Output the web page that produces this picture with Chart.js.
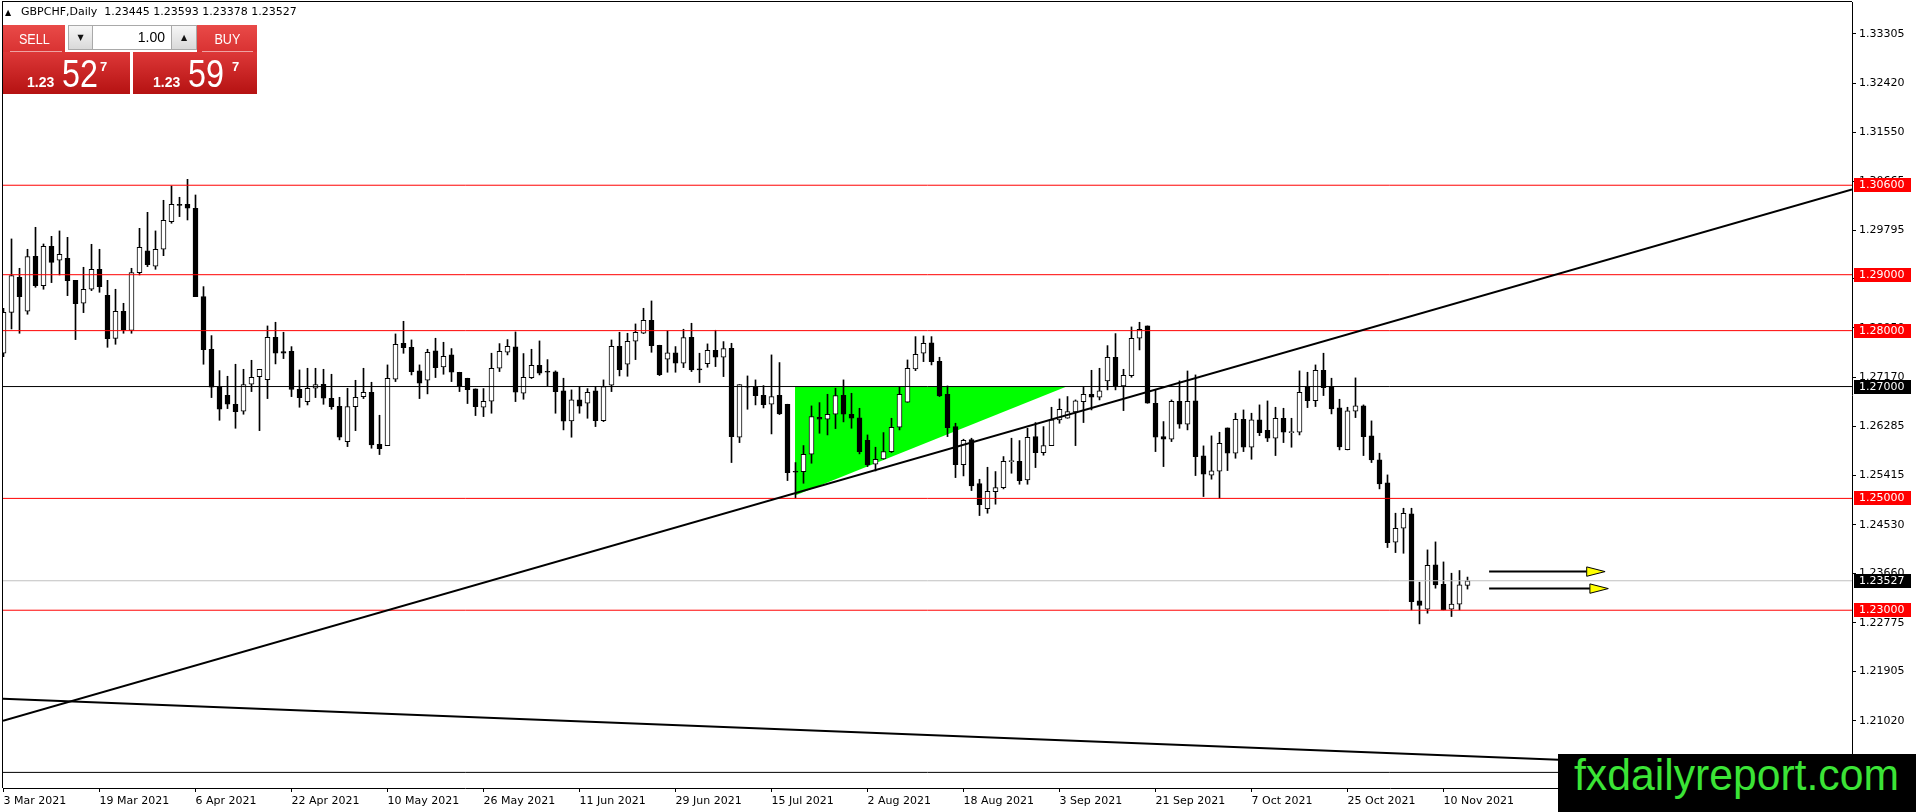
<!DOCTYPE html>
<html>
<head>
<meta charset="utf-8">
<script src="https://cdn.jsdelivr.net/npm/chart.js@4.4.1/dist/chart.umd.min.js"></script>
<style>
html,body{margin:0;padding:0;background:#fff;overflow:hidden}
#wrap{position:relative;width:1916px;height:812px;background:#fff}
#c{position:absolute;left:0;top:0}
.ov{position:absolute;white-space:pre}
.rtop{position:absolute;top:25px;height:27px;background:linear-gradient(#e94a48,#d93232);color:#fff;font:15px 'Liberation Sans';text-align:center;line-height:27px}
.rtop span{display:inline-block;transform:scaleX(0.84)}
.big{position:absolute;top:52px;height:42px;background:linear-gradient(#dd3838,#b51212)}
.sep{position:absolute;top:51px;height:1px;background:rgba(255,255,255,0.55)}
.spin{position:absolute;top:25px;height:25px;box-sizing:border-box;border:1px solid #a9a9a9;background:linear-gradient(#f6f6f6,#d9d9d9);font:8px 'DejaVu Sans';text-align:center;line-height:23px;color:#111}
.inp{position:absolute;top:25px;height:25px;box-sizing:border-box;border:1px solid #a9a9a9;background:#fff;font:14px 'Liberation Sans';text-align:right;line-height:23px;padding-right:6px;color:#000}
.t1{position:absolute;color:#fff;font:bold 14px 'Liberation Sans';line-height:14px}
.t2{position:absolute;color:#fff;font:38px 'Liberation Sans';line-height:38px;transform:scaleX(0.85);transform-origin:left top}
.t3{position:absolute;color:#fff;font:bold 13px 'Liberation Sans';line-height:13px}
#wm{position:absolute;left:1558px;top:754px;width:358px;height:58px;background:#000;overflow:hidden}
#wm div{position:absolute;left:16px;top:-1px;color:#3be436;font:44px 'Liberation Sans';line-height:44px;transform:scaleX(0.97);transform-origin:left top;white-space:pre}
</style>
</head>
<body>
<div id="wrap">
<canvas id="c" width="1916" height="812"></canvas>

<div class="ov" style="left:5px;top:8px;font:8px 'DejaVu Sans';color:#000">▲</div>
<div class="ov" style="left:21px;top:5px;font:11px 'DejaVu Sans';color:#000">GBPCHF,Daily  1.23445 1.23593 1.23378 1.23527</div>

<div class="big" style="left:3px;width:127px"></div>
<div class="big" style="left:133px;width:124px"></div>
<div class="rtop" style="left:3px;width:62px"><span>SELL</span></div>
<div class="rtop" style="left:197px;width:60px"><span>BUY</span></div>
<div class="sep" style="left:10px;width:52px"></div>
<div class="sep" style="left:202px;width:51px"></div>
<div class="spin" style="left:68px;width:25px">▼</div>
<div class="inp" style="left:92px;width:80px">1.00</div>
<div class="spin" style="left:171px;width:26px">▲</div>

<div class="t1" style="left:27px;top:75px">1.23</div>
<div class="t2" style="left:62px;top:55px">52</div>
<div class="t3" style="left:100px;top:60px">7</div>
<div class="t1" style="left:153px;top:75px">1.23</div>
<div class="t2" style="left:188px;top:55px">59</div>
<div class="t3" style="left:232px;top:60px">7</div>

<div id="wm"><div>fxdailyreport.com</div></div>
</div>

<script>
// ---- candle data (daily bars, index 0 = 3 Mar 2021) ----
const openP = [
1.27595,1.28328,1.28954,1.28346,1.29330,1.28805,1.29508,1.29258,1.29294,1.28900,
1.28489,1.28740,1.29097,1.28632,1.27863,1.28346,1.28006,1.29037,1.29425,1.29151,
1.29455,1.29949,1.30259,1.30259,1.30188,1.28608,1.27667,1.26993,1.26844,1.26683,
1.26558,1.27041,1.27178,1.27124,1.27881,1.27625,1.27631,1.26951,1.26731,1.26969,
1.27041,1.26791,1.26648,1.26016,1.26642,1.26820,1.26898,1.25968,1.25944,1.27130,
1.27774,1.27702,1.27279,1.27113,1.27637,1.27351,1.27566,1.27256,1.27149,1.26958,
1.26630,1.26737,1.27327,1.27613,1.27709,1.26880,1.27161,1.27381,1.27274,1.27262,
1.26922,1.26386,1.26761,1.26702,1.26922,1.26392,1.27023,1.27721,1.27399,1.27810,
1.27953,1.28186,1.27739,1.27488,1.27602,1.27417,1.27882,1.27310,1.27411,1.27649,
1.27524,1.27685,1.26094,1.27000,1.27000,1.26845,1.26684,1.26845,1.26684,1.25480,
1.25480,1.25790,1.26451,1.26415,1.26505,1.26844,1.26505,1.26439,1.26040,1.25611,
1.25706,1.25837,1.26272,1.26719,1.27315,1.27595,1.27780,1.27452,1.26862,1.26284,
1.25605,1.26052,1.25265,1.24818,1.25122,1.25194,1.25658,1.25664,1.25331,1.26105,
1.25819,1.25944,1.26403,1.26433,1.26546,1.26731,1.26862,1.26809,1.27101,1.27524,
1.27011,1.27196,1.27864,1.28084,1.26701,1.26105,1.26058,1.26737,1.26326,1.26743,
1.25760,1.25414,1.25486,1.26260,1.25808,1.26415,1.25915,1.26403,1.26219,1.26076,
1.26433,1.26177,1.26183,1.26999,1.26749,1.27292,1.26999,1.26618,1.25873,1.26558,
1.26654,1.26117,1.25688,1.25277,1.24216,1.24466,1.24723,1.23167,1.23018,1.23811,
1.23465,1.23018,1.23108,1.23445];
const highP = [
1.28400,1.29640,1.29115,1.29455,1.29848,1.29550,1.29687,1.29783,1.29669,1.28900,
1.29133,1.29544,1.29455,1.28900,1.28740,1.28489,1.29115,1.29830,1.30116,1.29783,
1.30331,1.30587,1.30385,1.30706,1.30426,1.28787,1.27911,1.27285,1.27184,1.27399,
1.27309,1.27470,1.27309,1.28084,1.28150,1.27971,1.27714,1.27297,1.27327,1.27327,
1.27309,1.27220,1.26808,1.26969,1.27112,1.27327,1.27077,1.26487,1.27387,1.27941,
1.28167,1.27834,1.27387,1.27667,1.27864,1.27792,1.27679,1.27256,1.27149,1.26958,
1.26964,1.27596,1.27768,1.27840,1.27977,1.27590,1.27667,1.27816,1.27482,1.27280,
1.27149,1.26940,1.27000,1.26964,1.27000,1.27119,1.27834,1.27971,1.27953,1.28120,
1.28400,1.28531,1.27739,1.27995,1.27715,1.28025,1.28132,1.27596,1.27763,1.28007,
1.27804,1.27774,1.27035,1.27190,1.27119,1.27017,1.27566,1.27429,1.26684,1.25641,
1.25945,1.26654,1.26713,1.26862,1.26970,1.27119,1.26880,1.26612,1.26135,1.25915,
1.26177,1.26433,1.26988,1.27476,1.27893,1.27905,1.27893,1.27524,1.27011,1.26344,
1.26058,1.26076,1.25342,1.25557,1.25480,1.25748,1.26076,1.26034,1.26254,1.26356,
1.26284,1.26630,1.26779,1.26821,1.26761,1.26988,1.27291,1.27327,1.27732,1.27947,
1.27309,1.28066,1.28150,1.28084,1.26940,1.26374,1.26761,1.27101,1.27279,1.27208,
1.25939,1.26118,1.26183,1.26260,1.26523,1.26582,1.26523,1.26672,1.26743,1.26630,
1.26612,1.26433,1.27280,1.27256,1.27387,1.27596,1.27149,1.26773,1.26630,1.27155,
1.26672,1.26386,1.25808,1.25420,1.24735,1.24824,1.24824,1.23501,1.24079,1.24222,
1.23864,1.23662,1.23710,1.23593];
const lowP = [
1.27536,1.28030,1.27953,1.28293,1.28775,1.28740,1.28859,1.28996,1.28626,1.27840,
1.28322,1.28716,1.28686,1.27702,1.27756,1.27953,1.27953,1.28996,1.29145,1.29097,
1.29341,1.29920,1.30039,1.29979,1.28608,1.27399,1.26803,1.26397,1.26606,1.26254,
1.26505,1.26910,1.26212,1.26785,1.27405,1.27500,1.26820,1.26630,1.26671,1.26803,
1.26683,1.26594,1.26046,1.25926,1.26212,1.26785,1.25897,1.25784,1.25944,1.27089,
1.27595,1.27208,1.26785,1.26869,1.27161,1.27220,1.27089,1.26910,1.26696,1.26481,
1.26463,1.26523,1.27268,1.27566,1.26731,1.26773,1.27143,1.27208,1.27012,1.26523,
1.26225,1.26094,1.26523,1.26433,1.26284,1.26374,1.26910,1.27190,1.27184,1.27482,
1.27947,1.27613,1.27196,1.27256,1.27256,1.27339,1.27268,1.27071,1.27345,1.27357,
1.27178,1.25641,1.25998,1.26594,1.26672,1.26618,1.26153,1.26499,1.25319,1.25003,
1.25271,1.25629,1.26165,1.26135,1.26248,1.26368,1.26254,1.25796,1.25569,1.25491,
1.25700,1.25819,1.26225,1.26719,1.27285,1.27446,1.27387,1.26821,1.26105,1.25372,
1.25402,1.25140,1.24693,1.24735,1.24896,1.25170,1.25450,1.25253,1.25253,1.25551,
1.25772,1.25944,1.26344,1.26433,1.25944,1.26356,1.26582,1.26761,1.26940,1.26940,
1.26570,1.27166,1.27655,1.26701,1.25837,1.25569,1.26016,1.26254,1.26225,1.25408,
1.25033,1.25343,1.25003,1.25498,1.25718,1.25837,1.25700,1.26123,1.26016,1.25766,
1.25998,1.25915,1.26135,1.26624,1.26642,1.26839,1.26511,1.25867,1.25867,1.26445,
1.25766,1.25641,1.25170,1.24121,1.24031,1.24019,1.23006,1.22756,1.22947,1.23394,
1.23006,1.22887,1.23006,1.23378];
const closeP = [
1.28328,1.28984,1.28608,1.29324,1.28805,1.29508,1.29222,1.29365,1.28894,1.28483,
1.28740,1.29097,1.28787,1.27857,1.28346,1.28012,1.29037,1.29490,1.29181,1.29455,
1.29973,1.30259,1.30241,1.30188,1.28608,1.27661,1.26987,1.26594,1.26683,1.26552,
1.27035,1.27166,1.27309,1.27881,1.27595,1.27595,1.26948,1.26803,1.26969,1.27035,
1.26791,1.26642,1.26093,1.26642,1.26808,1.26898,1.25956,1.25891,1.27148,1.27756,
1.27697,1.27267,1.27059,1.27613,1.27339,1.27542,1.27256,1.27006,1.26946,1.26642,
1.26737,1.27327,1.27631,1.27721,1.26898,1.27166,1.27381,1.27238,1.27256,1.26910,
1.26380,1.26761,1.26648,1.26898,1.26392,1.27000,1.27721,1.27304,1.27810,1.27971,
1.28186,1.27733,1.27214,1.27602,1.27417,1.27876,1.27298,1.27298,1.27649,1.27524,
1.27679,1.26106,1.27035,1.26988,1.26839,1.26678,1.26821,1.26511,1.25462,1.25468,
1.25790,1.26463,1.26415,1.26505,1.26838,1.26505,1.26433,1.25837,1.25605,1.25700,
1.25837,1.26272,1.26862,1.27327,1.27578,1.27774,1.27446,1.26833,1.26266,1.25605,
1.26040,1.25223,1.24890,1.25128,1.25194,1.25664,1.25664,1.25319,1.26094,1.25819,
1.25944,1.26403,1.26594,1.26552,1.26743,1.26862,1.26809,1.26922,1.27524,1.27011,
1.27202,1.27864,1.28025,1.26701,1.26094,1.26058,1.26737,1.26326,1.26737,1.25748,
1.25432,1.25492,1.25986,1.25808,1.26415,1.25915,1.26403,1.26177,1.26076,1.26433,
1.26183,1.26189,1.26898,1.26749,1.27292,1.26982,1.26600,1.25921,1.26564,1.26654,
1.26106,1.25688,1.25259,1.24210,1.24466,1.24735,1.23155,1.23084,1.23805,1.23453,
1.23006,1.23108,1.23453,1.23527];

// ---- axes ----
const xTickBars = [0,12,24,36,48,60,72,84,96,108,120,132,144,156,168,180];
const xTickLabels = ['3 Mar 2021','19 Mar 2021','6 Apr 2021','22 Apr 2021','10 May 2021','26 May 2021',
  '11 Jun 2021','29 Jun 2021','15 Jul 2021','2 Aug 2021','18 Aug 2021','3 Sep 2021','21 Sep 2021',
  '7 Oct 2021','25 Oct 2021','10 Nov 2021'];
const yTickValues = [1.20135,1.21020,1.21905,1.22775,1.23660,1.24530,1.25415,1.26285,1.27170,
  1.28050,1.28925,1.29795,1.30665,1.31550,1.32420,1.33305];
const xRange = [-0.0625, 231.0625];
const yRange = [1.19821, 1.33877];

// ---- drawn objects (bar index, price) ----
const redLevels = [1.30600, 1.29000, 1.28000, 1.25000, 1.23000];
const blackLevels = [1.27000];
const baseLevels = [1.20100];
const bidPrice = [1.23527];
const trendUpPrices = [1.21022, 1.30525];   // at xRange ends
const trendDownPrices = [1.21415, 1.20119]; // at xRange ends
const triBars = [98.94, 132.9];
const triPrices = [1.2505, 1.27000];
const arrowPrices = [1.23691, 1.23387];
const arrowFrom = [185.7, 185.7];
const arrowBase = [197.9, 198.3];
const arrowTip = [200.2, 200.6];
const arrowHalf = 0.00084;

function lineDs(xs, ys, color, width, order, extra) {
  return Object.assign({
    type: 'line',
    data: xs.map((x, i) => ({x: x, y: ys[i]})),
    borderColor: color, borderWidth: width,
    pointRadius: 0, pointHoverRadius: 0, pointHitRadius: 0,
    fill: false, tension: 0, order: order
  }, extra || {});
}

const bodyData = openP.map((o, i) => ({x: i, y: [o, closeP[i]]}));
const wickData = openP.map((o, i) => ({x: i, y: [lowP[i], highP[i]]}));
const bodyColors = openP.map((o, i) => closeP[i] >= o ? '#ffffff' : '#000000');

const datasets = [];
datasets.push(lineDs(triBars, triPrices, 'rgba(0,0,0,0)', 0, 10,
  {fill: {value: triPrices[1]}, backgroundColor: '#00ff00'}));
datasets.push({type: 'bar', data: wickData, backgroundColor: '#000', borderWidth: 0,
  barThickness: 1, grouped: false, order: 6});
datasets.push({type: 'bar', data: bodyData, backgroundColor: bodyColors, borderColor: '#000',
  borderWidth: 1, borderSkipped: false, barThickness: 5, minBarLength: 1, grouped: false, order: 5});
bidPrice.forEach(v => datasets.push(lineDs(xRange, [v, v], '#c0c0c0', 1, 4)));
redLevels.forEach(v => datasets.push(lineDs(xRange, [v, v], '#ff0000', 1, 3)));
blackLevels.forEach(v => datasets.push(lineDs(xRange, [v, v], '#000000', 1, 3)));
baseLevels.forEach(v => datasets.push(lineDs(xRange, [v, v], '#000000', 1, 3)));
datasets.push(lineDs(xRange, trendUpPrices, '#000000', 2, 2));
datasets.push(lineDs(xRange, trendDownPrices, '#000000', 2, 2));
arrowPrices.forEach((p, k) => {
  datasets.push(lineDs([arrowFrom[k], arrowBase[k]], [p, p], '#000000', 2, 2));
  datasets.push(lineDs([arrowBase[k], arrowTip[k], arrowBase[k], arrowBase[k]],
    [p + arrowHalf, p, p - arrowHalf, p + arrowHalf], '#000000', 1, 1,
    {fill: 'shape', backgroundColor: '#ffff00'}));
});

const boxList = []
  .concat(redLevels.map(v => ({v: v, bg: '#ff0000'})))
  .concat(blackLevels.map(v => ({v: v, bg: '#000000'})))
  .concat(bidPrice.map(v => ({v: v, bg: '#000000'})));

const framePlugin = {
  id: 'framePlugin',
  afterDraw(chart) {
    const {ctx, chartArea: a} = chart;
    const y = chart.scales.y;
    ctx.save();
    ctx.fillStyle = '#000';
    ctx.fillRect(a.left - 1, a.top - 1, a.right - a.left + 1, 1);
    ctx.fillRect(a.left - 1, a.top - 1, 1, a.bottom - a.top + 1);
    ctx.font = '11px "DejaVu Sans"';
    ctx.textBaseline = 'middle';
    ctx.textAlign = 'left';
    boxList.forEach(b => {
      const py = Math.round(y.getPixelForValue(b.v));
      ctx.fillStyle = b.bg;
      ctx.fillRect(a.right + 2, py - 7, 57, 14);
      ctx.fillStyle = '#fff';
      ctx.fillText(b.v.toFixed(5), a.right + 7, py + 0.5);
    });
    ctx.restore();
  }
};

new Chart(document.getElementById('c'), {
  type: 'bar',
  data: {datasets: datasets},
  options: {
    responsive: false,
    devicePixelRatio: 1,
    animation: false,
    events: [],
    layout: {padding: {left: 3, top: 2, right: 0, bottom: 0}},
    plugins: {legend: {display: false}, tooltip: {enabled: false}},
    scales: {
      x: {
        type: 'linear', position: 'bottom', min: xRange[0], max: xRange[1], offset: false,
        grid: {display: true, drawOnChartArea: false, drawTicks: true, tickLength: 4, color: '#000', offset: false},
        border: {display: true, color: '#000', width: 1},
        ticks: {autoSkip: false, maxRotation: 0, minRotation: 0, align: 'start', padding: 3, color: '#000',
          font: {family: 'DejaVu Sans', size: 11},
          callback: (v) => { const k = xTickBars.indexOf(v); return k >= 0 ? xTickLabels[k] : ''; }},
        afterBuildTicks: (s) => { s.ticks = xTickBars.map(v => ({value: v})); },
        afterFit: (s) => { s.height = 24; s.paddingLeft = 0; s.paddingRight = 0; }
      },
      y: {
        type: 'linear', position: 'right', min: yRange[0], max: yRange[1],
        grid: {display: true, drawOnChartArea: false, drawTicks: true, tickLength: 4, color: '#000'},
        border: {display: true, color: '#000', width: 1},
        ticks: {autoSkip: false, padding: 3, color: '#000', font: {family: 'DejaVu Sans', size: 11},
          callback: (v) => Number(v).toFixed(5)},
        afterBuildTicks: (s) => { s.ticks = yTickValues.map(v => ({value: v})); },
        afterFit: (s) => { s.width = 64; s.paddingTop = 0; s.paddingBottom = 0; }
      }
    }
  },
  plugins: [framePlugin]
});
</script>
</body>
</html>
